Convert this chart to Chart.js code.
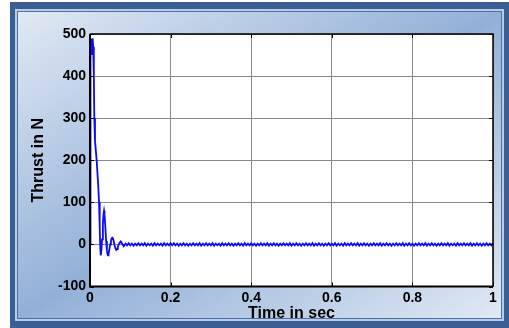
<!DOCTYPE html>
<html>
<head>
<meta charset="utf-8">
<script src="https://cdn.jsdelivr.net/npm/chart.js@4.4.1/dist/chart.umd.min.js"></script>
<style>
  html, body { margin: 0; padding: 0; background: #fff; width: 509px; height: 328px; overflow: hidden; }
  .f { position: absolute; }
  #outer { left: 10px; top: 2px; width: 499px; height: 326px; background: #3b5f94; }
  #l1 { left: 15px; top: 9px; width: 489px; height: 312px; background: #b9cce6; }
  #l2 { left: 17px; top: 11px; width: 485px; height: 308px; background: #4d72a8; }
  #l3 { left: 18px; top: 12px; width: 483px; height: 306px;
        background: linear-gradient(to bottom right, #e1e9f4 0%, #92b0d7 50%, #e1e9f4 100%); }
  #c { position: absolute; left: 0; top: 0; }
</style>
</head>
<body>
<div class="f" id="outer"></div>
<div class="f" id="l1"></div>
<div class="f" id="l2"></div>
<div class="f" id="l3"></div>
<canvas id="c" width="509" height="328"></canvas>
<script>
// ---- data ----
const transientTime = [0, 0.0005, 0.0012, 0.002, 0.003, 0.004, 0.005, 0.0065, 0.008, 0.0095,
  0.0107, 0.0124, 0.0166, 0.0206, 0.0224, 0.0241, 0.0256, 0.0266, 0.028, 0.030,
  0.032, 0.0335, 0.0348, 0.036, 0.038, 0.040, 0.042, 0.0435, 0.0447, 0.046,
  0.048, 0.050, 0.052, 0.054, 0.0555, 0.057, 0.059, 0.061, 0.063, 0.065,
  0.067, 0.069, 0.071, 0.073, 0.076, 0.078, 0.080, 0.082, 0.084, 0.086];
const transientThrust = [0, 170, 300, 488, 485, 450, 480, 490, 470, 400,
  300, 246, 199, 136, 100, 41, -10, -26, -18, 12,
  50, 72, 80, 72, 42, 8, -14, -24, -26, -23,
  -12, 0, 9, 15, 16, 14, 7, -2, -9, -13,
  -11, -6, -1, 3, 7, 5, 1, -2, -3, -1];
const rippleStart = 0.088;
const rippleStep = 0.004;
const rippleThrust = [
  2,-2,3,-2,2,-3,2,-2,3,-2,  2,-2,3,-3,2,-2,2,-3,3,-2,
  2,-2,2,-3,3,-2,2,-2,3,-2,  3,-2,2,-3,2,-2,3,-2,2,-3,
  2,-2,3,-2,2,-2,3,-3,2,-2,  3,-2,2,-2,3,-3,2,-2,2,-3,
  3,-2,2,-2,3,-2,2,-3,2,-2,  3,-2,2,-3,3,-2,2,-2,3,-2,
  2,-3,2,-2,3,-2,2,-2,3,-3,  2,-2,3,-2,2,-3,2,-2,3,-2,
  2,-2,3,-3,2,-2,3,-2,2,-3,  2,-2,3,-2,2,-2,3,-3,2,-2,
  3,-2,2,-3,2,-2,3,-2,2,-2,  3,-3,2,-2,2,-3,3,-2,2,-2,
  3,-2,2,-2,3,-3,2,-2,3,-2,  2,-3,2,-2,3,-2,2,-2,3,-3,
  2,-2,3,-2,2,-3,2,-2,3,-2,  2,-2,3,-3,2,-2,3,-2,2,-3,
  2,-2,3,-2,2,-2,3,-3,2,-2,  3,-2,2,-3,2,-2,3,-2,2,-2,
  3,-3,2,-2,2,-3,3,-2,2,-2,  3,-2,2,-2,3,-3,2,-2,3,-2,
  2,-3,2,-2,3,-2,2,-2,3];
const xTicks = [0, 0.2, 0.4, 0.6, 0.8, 1];
const yTicks = [-100, 0, 100, 200, 300, 400, 500];
const xTitle = 'Time in sec';
const yTitle = 'Thrust in N';

// ---- build points ----
const points = [];
transientTime.forEach((t, i) => points.push({ x: t, y: transientThrust[i] }));
rippleThrust.forEach((v, i) => points.push({ x: +(rippleStart + i * rippleStep).toFixed(4), y: v }));

const FONT = '"Liberation Sans", Arial, sans-serif';

const framePlugin = {
  id: 'frame',
  beforeDraw(chart) {
    const { ctx, chartArea: a } = chart;
    ctx.save();
    ctx.fillStyle = '#ffffff';
    ctx.fillRect(a.left, a.top, a.right - a.left, a.bottom - a.top);
    ctx.restore();
  },
  afterDraw(chart) {
    const { ctx, chartArea: a, scales: { x, y } } = chart;
    ctx.save();
    ctx.strokeStyle = '#000';
    ctx.lineWidth = 1;
    ctx.beginPath();
    xTicks.forEach(v => {
      const p = Math.round(x.getPixelForValue(v)) + 0.5;
      ctx.moveTo(p, a.bottom); ctx.lineTo(p, a.bottom - 4);
      ctx.moveTo(p, a.top); ctx.lineTo(p, a.top + 4);
    });
    yTicks.forEach(v => {
      const p = Math.round(y.getPixelForValue(v)) + 0.5;
      ctx.moveTo(a.left, p); ctx.lineTo(a.left + 4, p);
      ctx.moveTo(a.right, p); ctx.lineTo(a.right - 4, p);
    });
    ctx.stroke();
    ctx.lineWidth = 1.5;
    ctx.beginPath();
    ctx.moveTo(a.left, a.top); ctx.lineTo(a.right, a.top); ctx.lineTo(a.right, a.bottom);
    ctx.stroke();
    ctx.lineWidth = 2;
    ctx.beginPath();
    ctx.moveTo(a.left, a.top); ctx.lineTo(a.left, a.bottom); ctx.lineTo(a.right, a.bottom);
    ctx.stroke();
    ctx.restore();
  }
};

new Chart(document.getElementById('c'), {
  type: 'line',
  data: {
    datasets: [{
      data: points,
      borderColor: '#0a0aff',
      borderWidth: 1.8,
      pointRadius: 0,
      fill: false,
      tension: 0
    }]
  },
  options: {
    responsive: false,
    animation: false,
    devicePixelRatio: 1,
    layout: { padding: { left: 0, top: 34, right: 16, bottom: 0 } },
    plugins: { legend: { display: false }, tooltip: { enabled: false } },
    scales: {
      x: {
        type: 'linear', min: 0, max: 1,
        afterBuildTicks: s => { s.ticks = xTicks.map(v => ({ value: v })); },
        afterFit: s => { s.height = 41.5; s.paddingLeft = 0; s.paddingRight = 0; },
        grid: { color: '#8a8a8a', lineWidth: 1, drawTicks: false },
        border: { display: false },
        ticks: {
          color: '#000', padding: 3, maxRotation: 0, autoSkip: false,
          font: { family: FONT, size: 14, weight: 'bold' },
          callback: v => String(v)
        },
        title: {
          display: true, text: xTitle, color: '#000',
          font: { family: FONT, size: 16, weight: 'bold' },
          padding: { top: 0, bottom: 5 }
        }
      },
      y: {
        type: 'linear', min: -100, max: 500,
        afterBuildTicks: s => { s.ticks = yTicks.map(v => ({ value: v })); },
        afterFit: s => { s.width = 90; s.paddingTop = 0; s.paddingBottom = 0; },
        grid: { color: '#8a8a8a', lineWidth: 1, drawTicks: false },
        border: { display: false },
        ticks: {
          color: '#000', padding: 4, autoSkip: false,
          font: { family: FONT, size: 14, weight: 'bold' },
          callback: v => String(v)
        },
        title: {
          display: true, text: yTitle, color: '#000',
          font: { family: FONT, size: 16, weight: 'bold' },
          padding: { top: 29, bottom: 0 }
        }
      }
    }
  },
  plugins: [framePlugin]
});
</script>
</body>
</html>
